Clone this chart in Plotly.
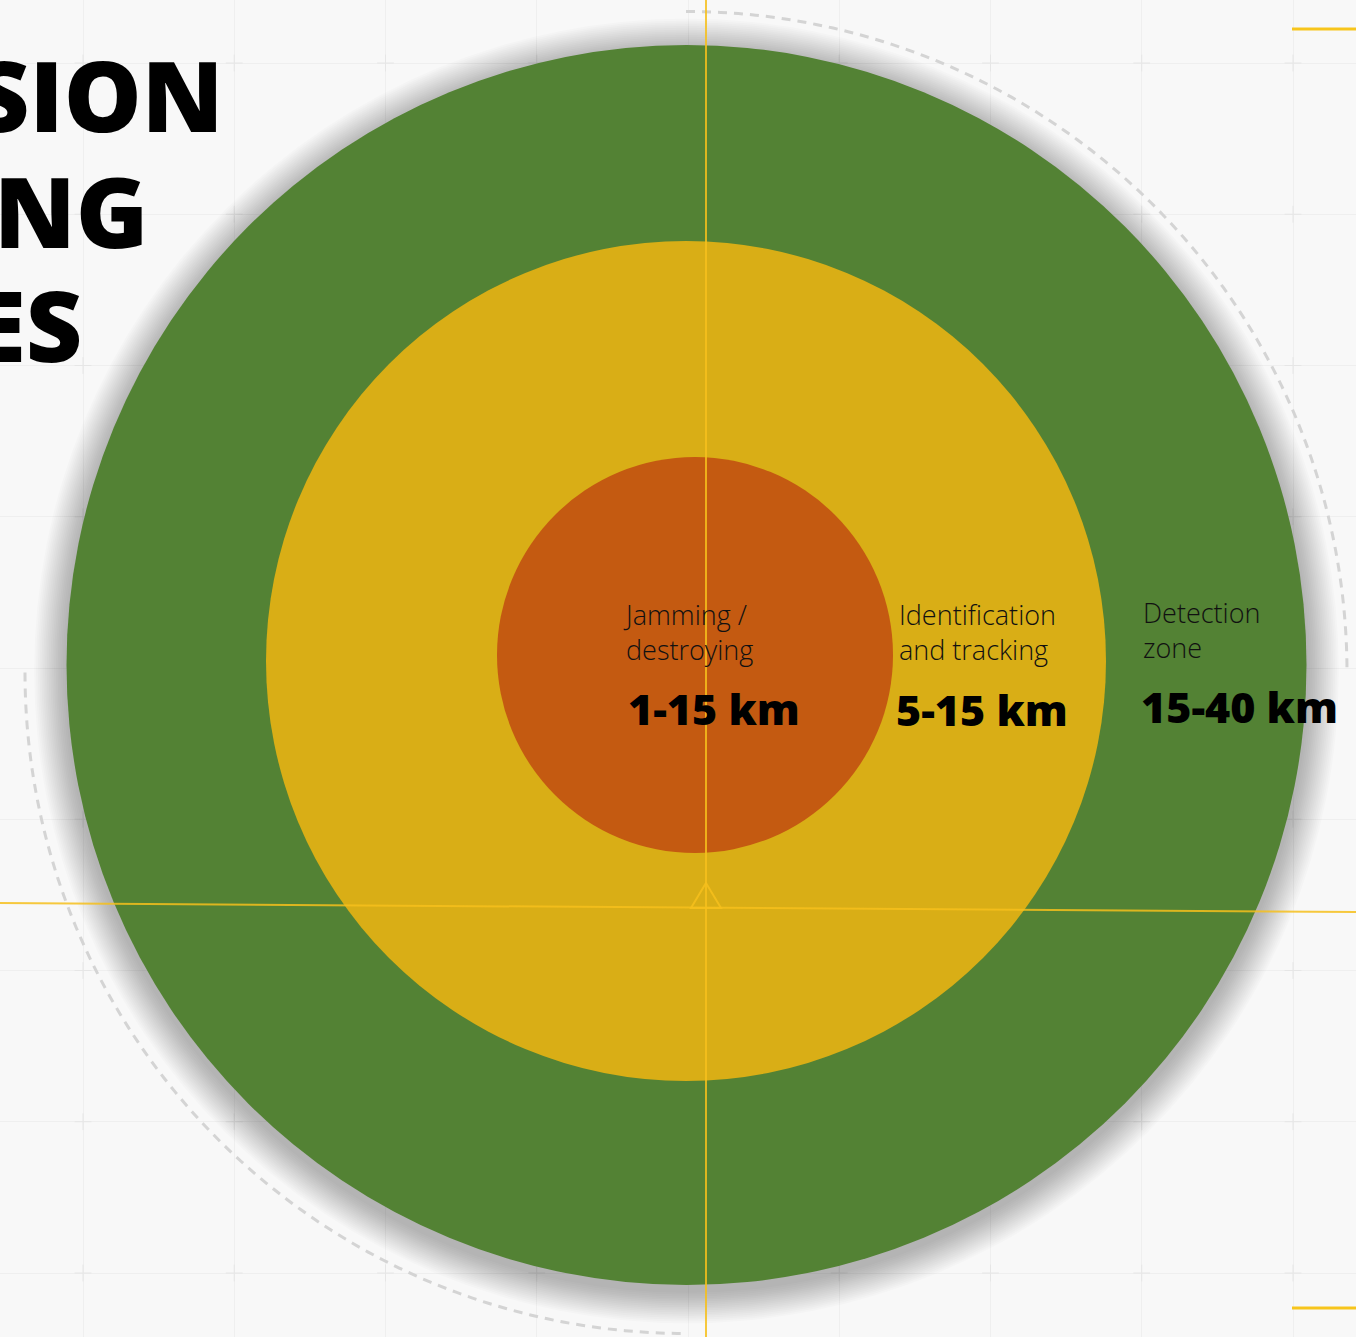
import numpy as np
import plotly.graph_objects as go

# ---------------- data ----------------
zone_names = ["Jamming /<br>destroying", "Identification<br>and tracking", "Detection<br>zone"]
zone_ranges = ["1-15 km", "5-15 km", "15-40 km"]
zone_colors = ["#c45a11", "#d9ae16", "#538234"]
title_lines = ["SION", "NG", "ES"]

# ---------------- geometry (pixel-like chart units) ----------------
W, H = 1356, 1337
zone_centers = [(695, 655), (686, 661), (686.5, 665)]
zone_radius = [198, 420, 620]
ring_center = (686, 672.5)
ring_radius = 661
line_col = "rgba(246,192,28,0.85)"

fig = go.Figure()

# grid intersection crosses
gx = 83 + 151.25 * np.arange(9)
gy = 63 + 151.25 * np.arange(9)
XX, YY = np.meshgrid(gx, gy)
fig.add_trace(go.Scatter(x=XX.ravel(), y=YY.ravel(), mode="markers",
                         marker=dict(symbol="cross-thin", size=12,
                                     line=dict(color="#e6e6e6", width=1)),
                         hoverinfo="skip", showlegend=False))

shapes = []
# shadow of big disc
cx, cy = zone_centers[2]
R = zone_radius[2]
for k in range(1, 19):
    r = R + 1.8 * k
    shapes.append(dict(type="circle", xref="x", yref="y", layer="above",
                       x0=cx - r, x1=cx + r, y0=cy + 6 - r, y1=cy + 6 + r,
                       fillcolor="rgba(0,0,0,0.015)", line=dict(width=0)))

# dashed arcs (top-right and bottom-left quadrants)
def arc_path(c, r, a0, a1, n=120):
    t = np.linspace(np.radians(a0), np.radians(a1), n)
    xs = c[0] + r * np.cos(t)
    ys = c[1] - r * np.sin(t)
    return "M " + " L ".join(f"{x:.2f},{y:.2f}" for x, y in zip(xs, ys))

for a0, a1 in [(90, 0), (180, 270)]:
    shapes.append(dict(type="path", xref="x", yref="y", layer="above",
                       path=arc_path(ring_center, ring_radius, a0, a1),
                       line=dict(color="#d4d4d4", width=3, dash="9px,7px")))

# zone discs (largest first)
for i in [2, 1, 0]:
    c = zone_centers[i]
    r = zone_radius[i]
    shapes.append(dict(type="circle", xref="x", yref="y", layer="above",
                       x0=c[0] - r, x1=c[0] + r, y0=c[1] - r, y1=c[1] + r,
                       fillcolor=zone_colors[i], line=dict(width=0)))

# crosshair lines
shapes.append(dict(type="line", xref="x", yref="y", layer="above",
                   x0=706, x1=706, y0=0, y1=H, line=dict(color=line_col, width=2)))
shapes.append(dict(type="line", xref="x", yref="y", layer="above",
                   x0=0, x1=W, y0=903, y1=912, line=dict(color=line_col, width=2)))
# triangle marker
shapes.append(dict(type="path", xref="x", yref="y", layer="above",
                   path="M 706,883 L 721,908 L 691,908 Z",
                   line=dict(color=line_col, width=2), fillcolor="rgba(0,0,0,0)"))
# corner accent lines
for yy in [29, 1308]:
    shapes.append(dict(type="line", xref="x", yref="y", layer="above",
                       x0=1292, x1=W, y0=yy, y1=yy,
                       line=dict(color="#f7c51c", width=3)))

annotations = []
label_pos = [(621, 632), (897, 632), (1141, 630)]
value_pos = [(626, 708), (894, 709), (1139, 706)]
for i in range(3):
    annotations.append(dict(x=label_pos[i][0], y=label_pos[i][1], xref="x", yref="y",
                            text=zone_names[i], showarrow=False, xanchor="left",
                            yanchor="middle", align="left",
                            font=dict(family="Open Sans", size=27, color="#111111", weight=300)))
    annotations.append(dict(x=value_pos[i][0], y=value_pos[i][1], xref="x", yref="y",
                            text=zone_ranges[i], showarrow=False, xanchor="left",
                            yanchor="middle", align="left",
                            font=dict(family="Open Sans", size=43, color="#000000", weight=800)))

title_right = [226, 150, 84]
title_y = [94, 210, 324]
for t, xr, yc in zip(title_lines, title_right, title_y):
    annotations.append(dict(x=xr, y=yc, xref="x", yref="y", text=t, showarrow=False,
                            xanchor="right", yanchor="middle", height=104,
                            font=dict(family="Open Sans", size=98, color="#000000", weight=800)))

fig.update_layout(
    width=W, height=H,
    margin=dict(l=0, r=0, t=0, b=0),
    paper_bgcolor="#f8f8f8", plot_bgcolor="#f8f8f8",
    showlegend=False,
    shapes=shapes, annotations=annotations,
    xaxis=dict(range=[0, W], showgrid=True, gridcolor="#efefef", gridwidth=1,
               tick0=83, dtick=151.25, showticklabels=False, zeroline=False,
               showline=False, ticks="", fixedrange=True),
    yaxis=dict(range=[H, 0], showgrid=True, gridcolor="#efefef", gridwidth=1,
               tick0=63, dtick=151.25, showticklabels=False, zeroline=False,
               showline=False, ticks="", fixedrange=True),
)

fig.write_html("out.html", config={"displayModeBar": False},
               post_script="document.body.style.margin='0';document.body.style.background='#f8f8f8';")
